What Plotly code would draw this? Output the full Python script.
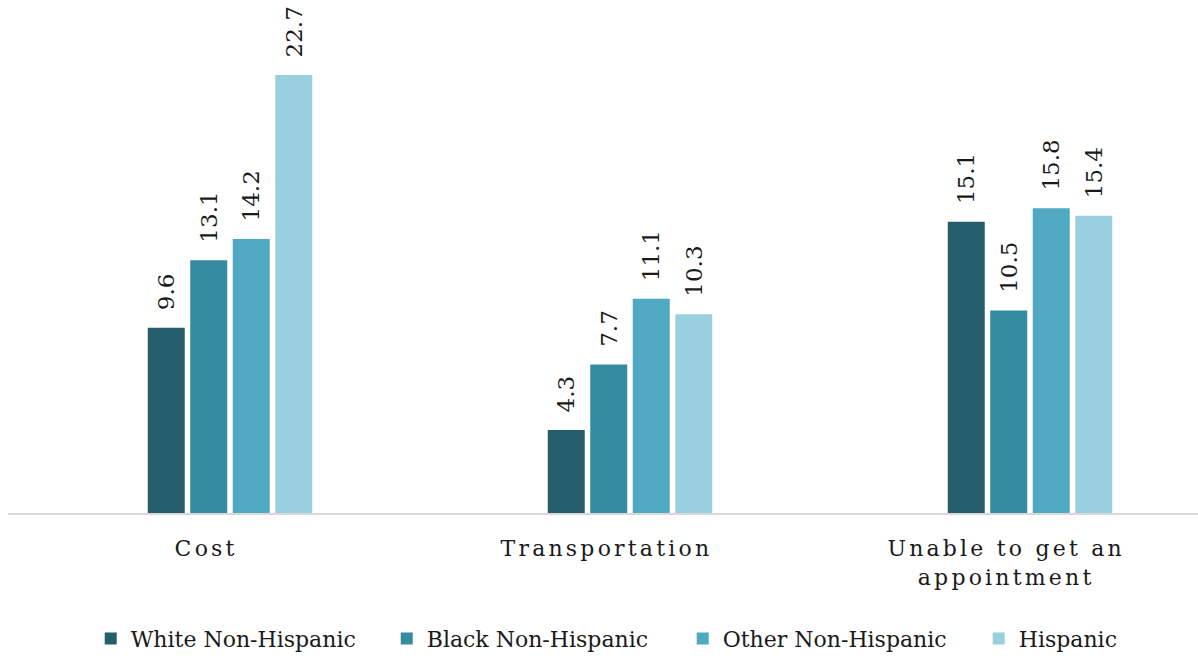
import plotly.graph_objects as go

categories = ["Cost", "Transportation", "Unable to get an<br>appointment"]
series_names = ["White Non-Hispanic", "Black Non-Hispanic", "Other Non-Hispanic", "Hispanic"]
white_nh = [9.6, 4.3, 15.1]
black_nh = [13.1, 7.7, 10.5]
other_nh = [14.2, 11.1, 15.8]
hispanic = [22.7, 10.3, 15.4]
colors = ["#245e6b", "#348a9e", "#50a9c2", "#98d1dd"]

FONT = "DejaVu Serif"

fig = go.Figure()
for name, vals, col in zip(series_names, [white_nh, black_nh, other_nh, hispanic], colors):
    fig.add_trace(go.Bar(
        x=categories, y=vals, name=name,
        marker=dict(color=col, line=dict(width=0)),
        text=vals, texttemplate="\u00a0\u00a0%{y:.1f}",
        textposition="outside", textangle=-90,
        textfont=dict(family=FONT, size=23, color="#1a1a1a"),
        constraintext="none", cliponaxis=False,
    ))

for c in categories:
    fig.add_annotation(
        x=c, y=0, xref="x", yref="paper", yanchor="top", xanchor="center",
        text=c, showarrow=False, xshift=-24, yshift=-21,
        font=dict(family=FONT, size=22, color="#1a1a1a"),
    )

fig.update_layout(
    width=1198, height=658,
    font=dict(family=FONT),
    margin=dict(l=8, r=0, t=21, b=145, autoexpand=False),
    paper_bgcolor="white", plot_bgcolor="white",
    barmode="group", bargap=0.575, bargroupgap=0.13,
    showlegend=True,
    legend=dict(orientation="h", x=0.567, xanchor="center", y=-0.213, yanchor="top",
                font=dict(family=FONT, size=22, color="#1a1a1a"),
                traceorder="normal", entrywidth=251, entrywidthmode="pixels"),
    xaxis=dict(showticklabels=False, showline=True, linecolor="#d9d9d9", linewidth=2,
               ticks="", range=[-0.555, 2.42], showgrid=False, zeroline=False),
    yaxis=dict(visible=False, range=[0, 25.5], showgrid=False, zeroline=False),
    uniformtext=dict(mode=False),
)

post = """
var s = document.createElement('style');
s.innerHTML = '.annotation-text { letter-spacing: 3.2px; }';
document.head.appendChild(s);
"""
fig.write_html("out.html", post_script=post)
